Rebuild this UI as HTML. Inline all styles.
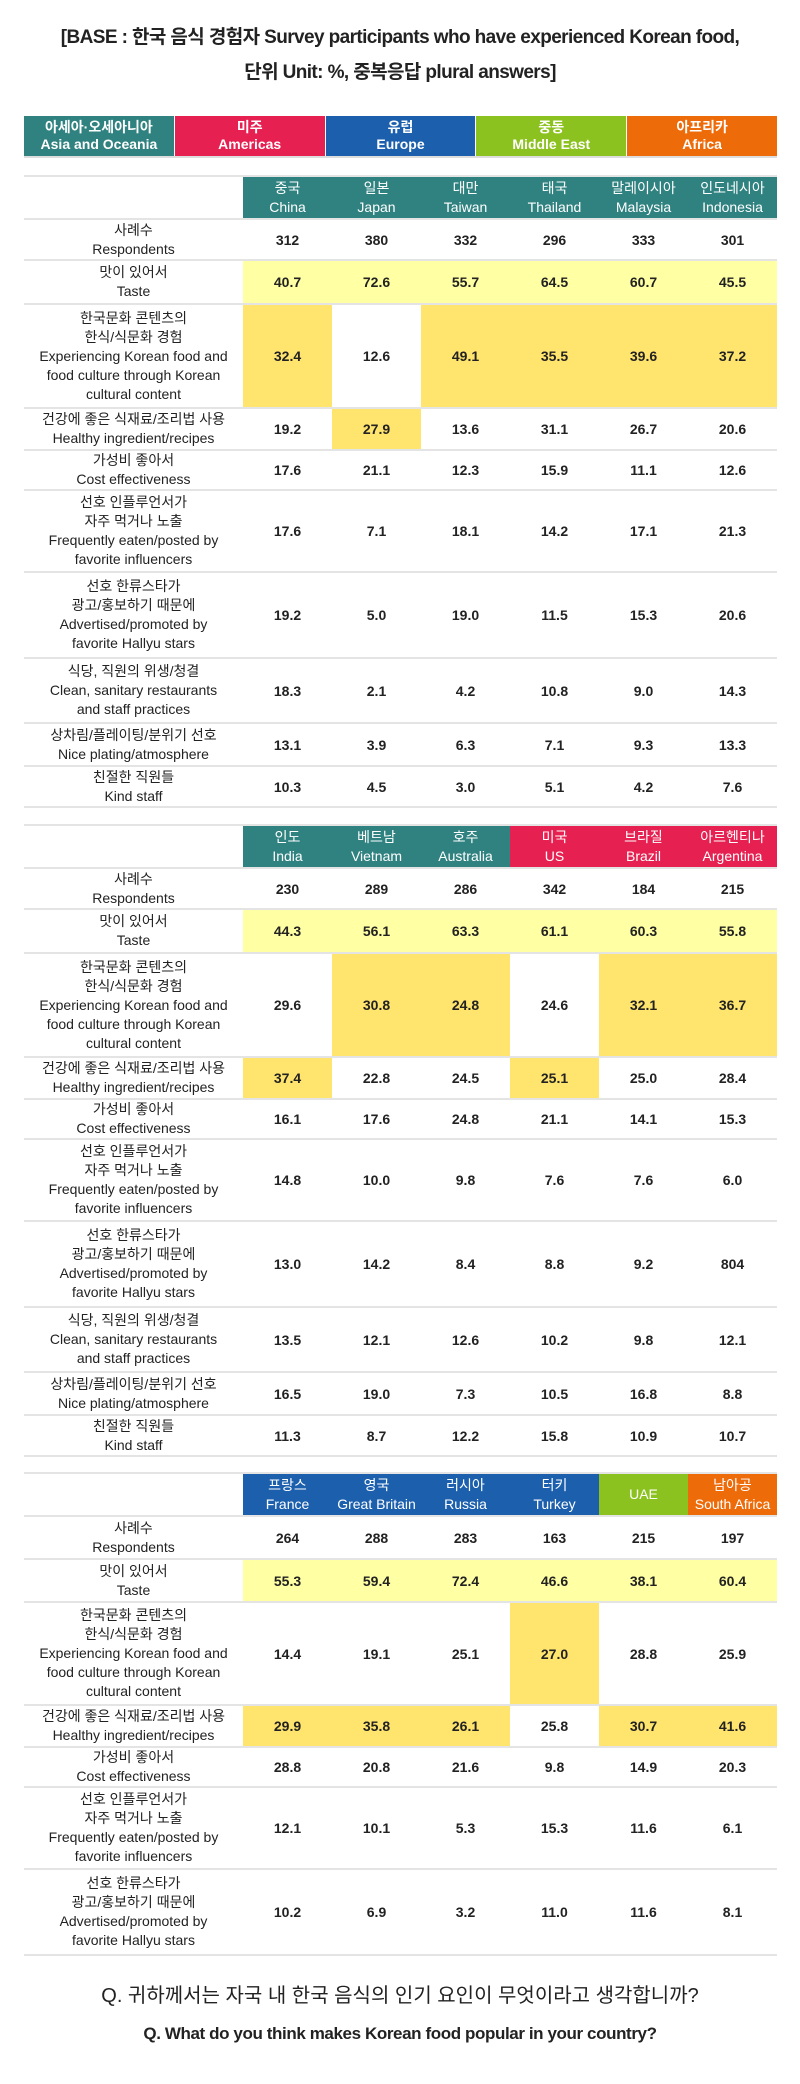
<!DOCTYPE html>
<html><head><meta charset="utf-8"><style>
*{box-sizing:border-box;margin:0;padding:0}
body{width:800px;height:2084px;background:#fff;position:relative;font-family:"Liberation Sans","Noto Sans CJK KR",sans-serif;color:#222;overflow:hidden}
.t{position:absolute;left:0;width:800px;text-align:center;white-space:nowrap}
.reg{position:absolute;left:24px;top:116px;width:753px;height:42px;display:flex;border-bottom:2px solid #ddd}
.reg div{flex:1;color:#fff;font-size:14px;font-weight:bold;line-height:17px;display:flex;flex-direction:column;justify-content:center;align-items:center;border-right:1px solid #fff}
.tb{position:absolute;left:24px;width:753px}
.r{display:flex;border-bottom:2px solid #e4e4e4}
.l{width:219px;display:flex;flex-direction:column;justify-content:center;align-items:center;text-align:center;font-size:14px;line-height:19px;color:#222}
.c{width:89px;display:flex;align-items:center;justify-content:center;font-size:14px;font-weight:bold;color:#222}
.h .c{flex-direction:column;font-weight:normal;color:#fff;line-height:19px;font-size:14px}
.h{border-top:2px solid #e4e4e4}
.y{background:#ffffa3}.Y{background:#ffe46e}
.tl{background:#2f8280}.pk{background:#e62050}.bl{background:#1b5fad}.gr{background:#8cc21f}.or{background:#ee6b0a}
</style></head><body>
<div class="t" style="top:22px;font-size:19px;font-weight:bold;letter-spacing:-0.6px">[BASE : 한국 음식 경험자 Survey participants who have experienced Korean food,</div>
<div class="t" style="top:57px;font-size:19px;font-weight:bold;letter-spacing:-0.6px">단위 Unit: %, 중복응답 plural answers]</div>

<div class="reg">
<div class="tl">아세아·오세아니아<span>Asia and Oceania</span></div>
<div class="pk">미주<span>Americas</span></div>
<div class="bl">유럽<span>Europe</span></div>
<div class="gr">중동<span>Middle East</span></div>
<div class="or" style="border-right:none">아프리카<span>Africa</span></div>
</div>

<div class="tb" style="top:175px">
<div class="r h" style="height:45px"><div class="l"></div><div class="c tl">중국<span>China</span></div><div class="c tl">일본<span>Japan</span></div><div class="c tl">대만<span>Taiwan</span></div><div class="c tl">태국<span>Thailand</span></div><div class="c tl">말레이시아<span>Malaysia</span></div><div class="c tl">인도네시아<span>Indonesia</span></div></div>
<div class="r" style="height:41px"><div class="l">사례수<span>Respondents</span></div><div class="c">312</div><div class="c">380</div><div class="c">332</div><div class="c">296</div><div class="c">333</div><div class="c">301</div></div>
<div class="r" style="height:44px"><div class="l">맛이 있어서<span>Taste</span></div><div class="c y">40.7</div><div class="c y">72.6</div><div class="c y">55.7</div><div class="c y">64.5</div><div class="c y">60.7</div><div class="c y">45.5</div></div>
<div class="r" style="height:104px"><div class="l">한국문화 콘텐츠의<span>한식/식문화 경험</span><span>Experiencing Korean food and</span><span>food culture through Korean</span><span>cultural content</span></div><div class="c Y">32.4</div><div class="c">12.6</div><div class="c Y">49.1</div><div class="c Y">35.5</div><div class="c Y">39.6</div><div class="c Y">37.2</div></div>
<div class="r" style="height:42px"><div class="l">건강에 좋은 식재료/조리법 사용<span>Healthy ingredient/recipes</span></div><div class="c">19.2</div><div class="c Y">27.9</div><div class="c">13.6</div><div class="c">31.1</div><div class="c">26.7</div><div class="c">20.6</div></div>
<div class="r" style="height:40px"><div class="l">가성비 좋아서<span>Cost effectiveness</span></div><div class="c">17.6</div><div class="c">21.1</div><div class="c">12.3</div><div class="c">15.9</div><div class="c">11.1</div><div class="c">12.6</div></div>
<div class="r" style="height:82px"><div class="l">선호 인플루언서가<span>자주 먹거나 노출</span><span>Frequently eaten/posted by</span><span>favorite influencers</span></div><div class="c">17.6</div><div class="c">7.1</div><div class="c">18.1</div><div class="c">14.2</div><div class="c">17.1</div><div class="c">21.3</div></div>
<div class="r" style="height:86px"><div class="l">선호 한류스타가<span>광고/홍보하기 때문에</span><span>Advertised/promoted by</span><span>favorite Hallyu stars</span></div><div class="c">19.2</div><div class="c">5.0</div><div class="c">19.0</div><div class="c">11.5</div><div class="c">15.3</div><div class="c">20.6</div></div>
<div class="r" style="height:65px"><div class="l">식당, 직원의 위생/청결<span>Clean, sanitary restaurants</span><span>and staff practices</span></div><div class="c">18.3</div><div class="c">2.1</div><div class="c">4.2</div><div class="c">10.8</div><div class="c">9.0</div><div class="c">14.3</div></div>
<div class="r" style="height:43px"><div class="l">상차림/플레이팅/분위기 선호<span>Nice plating/atmosphere</span></div><div class="c">13.1</div><div class="c">3.9</div><div class="c">6.3</div><div class="c">7.1</div><div class="c">9.3</div><div class="c">13.3</div></div>
<div class="r" style="height:41px"><div class="l">친절한 직원들<span>Kind staff</span></div><div class="c">10.3</div><div class="c">4.5</div><div class="c">3.0</div><div class="c">5.1</div><div class="c">4.2</div><div class="c">7.6</div></div>
</div>

<div class="tb" style="top:824px">
<div class="r h" style="height:45px"><div class="l"></div><div class="c tl">인도<span>India</span></div><div class="c tl">베트남<span>Vietnam</span></div><div class="c tl">호주<span>Australia</span></div><div class="c pk">미국<span>US</span></div><div class="c pk">브라질<span>Brazil</span></div><div class="c pk">아르헨티나<span>Argentina</span></div></div>
<div class="r" style="height:41px"><div class="l">사례수<span>Respondents</span></div><div class="c">230</div><div class="c">289</div><div class="c">286</div><div class="c">342</div><div class="c">184</div><div class="c">215</div></div>
<div class="r" style="height:44px"><div class="l">맛이 있어서<span>Taste</span></div><div class="c y">44.3</div><div class="c y">56.1</div><div class="c y">63.3</div><div class="c y">61.1</div><div class="c y">60.3</div><div class="c y">55.8</div></div>
<div class="r" style="height:104px"><div class="l">한국문화 콘텐츠의<span>한식/식문화 경험</span><span>Experiencing Korean food and</span><span>food culture through Korean</span><span>cultural content</span></div><div class="c">29.6</div><div class="c Y">30.8</div><div class="c Y">24.8</div><div class="c">24.6</div><div class="c Y">32.1</div><div class="c Y">36.7</div></div>
<div class="r" style="height:42px"><div class="l">건강에 좋은 식재료/조리법 사용<span>Healthy ingredient/recipes</span></div><div class="c Y">37.4</div><div class="c">22.8</div><div class="c">24.5</div><div class="c Y">25.1</div><div class="c">25.0</div><div class="c">28.4</div></div>
<div class="r" style="height:40px"><div class="l">가성비 좋아서<span>Cost effectiveness</span></div><div class="c">16.1</div><div class="c">17.6</div><div class="c">24.8</div><div class="c">21.1</div><div class="c">14.1</div><div class="c">15.3</div></div>
<div class="r" style="height:82px"><div class="l">선호 인플루언서가<span>자주 먹거나 노출</span><span>Frequently eaten/posted by</span><span>favorite influencers</span></div><div class="c">14.8</div><div class="c">10.0</div><div class="c">9.8</div><div class="c">7.6</div><div class="c">7.6</div><div class="c">6.0</div></div>
<div class="r" style="height:86px"><div class="l">선호 한류스타가<span>광고/홍보하기 때문에</span><span>Advertised/promoted by</span><span>favorite Hallyu stars</span></div><div class="c">13.0</div><div class="c">14.2</div><div class="c">8.4</div><div class="c">8.8</div><div class="c">9.2</div><div class="c">804</div></div>
<div class="r" style="height:65px"><div class="l">식당, 직원의 위생/청결<span>Clean, sanitary restaurants</span><span>and staff practices</span></div><div class="c">13.5</div><div class="c">12.1</div><div class="c">12.6</div><div class="c">10.2</div><div class="c">9.8</div><div class="c">12.1</div></div>
<div class="r" style="height:43px"><div class="l">상차림/플레이팅/분위기 선호<span>Nice plating/atmosphere</span></div><div class="c">16.5</div><div class="c">19.0</div><div class="c">7.3</div><div class="c">10.5</div><div class="c">16.8</div><div class="c">8.8</div></div>
<div class="r" style="height:41px"><div class="l">친절한 직원들<span>Kind staff</span></div><div class="c">11.3</div><div class="c">8.7</div><div class="c">12.2</div><div class="c">15.8</div><div class="c">10.9</div><div class="c">10.7</div></div>
</div>

<div class="tb" style="top:1472px">
<div class="r h" style="height:45px"><div class="l"></div><div class="c bl">프랑스<span>France</span></div><div class="c bl">영국<span>Great Britain</span></div><div class="c bl">러시아<span>Russia</span></div><div class="c bl">터키<span>Turkey</span></div><div class="c gr">UAE</div><div class="c or">남아공<span>South Africa</span></div></div>
<div class="r" style="height:43px"><div class="l">사례수<span>Respondents</span></div><div class="c">264</div><div class="c">288</div><div class="c">283</div><div class="c">163</div><div class="c">215</div><div class="c">197</div></div>
<div class="r" style="height:43px"><div class="l">맛이 있어서<span>Taste</span></div><div class="c y">55.3</div><div class="c y">59.4</div><div class="c y">72.4</div><div class="c y">46.6</div><div class="c y">38.1</div><div class="c y">60.4</div></div>
<div class="r" style="height:103px"><div class="l">한국문화 콘텐츠의<span>한식/식문화 경험</span><span>Experiencing Korean food and</span><span>food culture through Korean</span><span>cultural content</span></div><div class="c">14.4</div><div class="c">19.1</div><div class="c">25.1</div><div class="c Y">27.0</div><div class="c">28.8</div><div class="c">25.9</div></div>
<div class="r" style="height:42px"><div class="l">건강에 좋은 식재료/조리법 사용<span>Healthy ingredient/recipes</span></div><div class="c Y">29.9</div><div class="c Y">35.8</div><div class="c Y">26.1</div><div class="c">25.8</div><div class="c Y">30.7</div><div class="c Y">41.6</div></div>
<div class="r" style="height:40px"><div class="l">가성비 좋아서<span>Cost effectiveness</span></div><div class="c">28.8</div><div class="c">20.8</div><div class="c">21.6</div><div class="c">9.8</div><div class="c">14.9</div><div class="c">20.3</div></div>
<div class="r" style="height:82px"><div class="l">선호 인플루언서가<span>자주 먹거나 노출</span><span>Frequently eaten/posted by</span><span>favorite influencers</span></div><div class="c">12.1</div><div class="c">10.1</div><div class="c">5.3</div><div class="c">15.3</div><div class="c">11.6</div><div class="c">6.1</div></div>
<div class="r" style="height:86px"><div class="l">선호 한류스타가<span>광고/홍보하기 때문에</span><span>Advertised/promoted by</span><span>favorite Hallyu stars</span></div><div class="c">10.2</div><div class="c">6.9</div><div class="c">3.2</div><div class="c">11.0</div><div class="c">11.6</div><div class="c">8.1</div></div>
</div>

<div class="t" style="top:1979px;font-size:20px">Q. 귀하께서는 자국 내 한국 음식의 인기 요인이 무엇이라고 생각합니까?</div>
<div class="t" style="top:2024px;font-size:17px;font-weight:bold;letter-spacing:-0.4px">Q. What do you think makes Korean food popular in your country?</div>
</body></html>
